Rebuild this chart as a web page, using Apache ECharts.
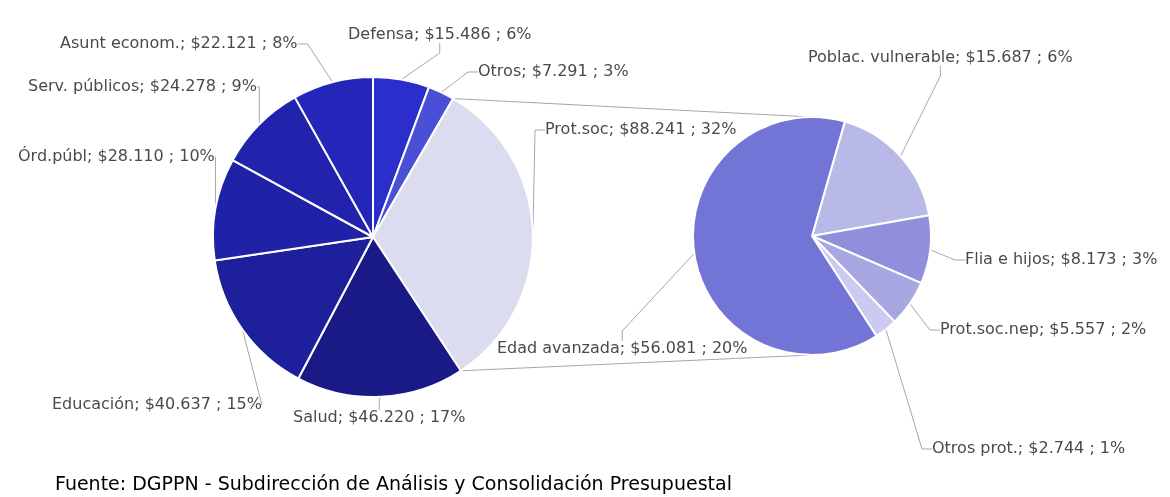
<!DOCTYPE html>
<html>
<head>
<meta charset="utf-8">
<script src="https://cdn.jsdelivr.net/npm/echarts@6/dist/echarts.min.js"></script>
<style>
  html, body { margin: 0; padding: 0; background: #fff; }
  #chart { width: 1170px; height: 497px; }
</style>
</head>
<body>
<div id="chart"></div>
<script>
// main pie (clockwise from 12 o'clock)
var mainNames = ['Defensa', 'Otros', 'Prot.soc', 'Salud', 'Educación', 'Órd.públ', 'Serv. públicos', 'Asunt econom.'];
var mainValues = [15486, 7291, 88241, 46220, 40637, 28110, 24278, 22121];
var mainPct = [6, 3, 32, 17, 15, 10, 9, 8];
var mainColors = ['#2b2dcc', '#4b4fd6', '#dcdcf1', '#1a1a87', '#1d1f9b', '#1f21a6', '#2123ad', '#2326b8'];

// breakdown of Prot.soc
var subNames = ['Poblac. vulnerable', 'Flia e hijos', 'Prot.soc.nep', 'Otros prot.', 'Edad avanzada'];
var subValues = [15687, 8173, 5557, 2744, 56081];
var subPct = [6, 3, 2, 1, 20];
var subColors = ['#b9b9e8', '#8f8fdc', '#a7a7e1', '#cbcbef', '#7375d6'];

var splitIndex = 2;

// label placement (left x, middle y)
var mainLabelPos = [[348, 35], [478, 72], [545, 130], [293, 418], [52, 405], [18, 157], [28, 87], [60, 44]];
var subLabelPos = [[808, 58], [965, 260], [940, 330], [932, 449], [497, 349]];

var mainCenter = [373, 237], mainR = 160;
var subCenter = [812, 236], subR = 119;
var subStart = 74;

function money(v) {
  return '$' + String(v).replace(/\B(?=(\d{3})+(?!\d))/g, '.');
}

var chart = echarts.init(document.getElementById('chart'));

// connector lines from the split slice to the second pie
var total = mainValues.reduce(function (a, b) { return a + b; }, 0);
var before = 0;
for (var i = 0; i < splitIndex; i++) before += mainValues[i];
var a1 = before / total * 2 * Math.PI;
var a2 = (before + mainValues[splitIndex]) / total * 2 * Math.PI;
function onMain(a) {
  return [mainCenter[0] + mainR * Math.sin(a), mainCenter[1] - mainR * Math.cos(a)];
}
var p1 = onMain(a1), p2 = onMain(a2);

var labelBase = {
  show: true,
  fontFamily: 'DejaVu Sans',
  fontSize: 16,
  color: '#4a4a4a'
};

var option = {
  animation: false,
  graphic: [
    { type: 'line', shape: { x1: p1[0], y1: p1[1], x2: subCenter[0], y2: subCenter[1] - subR }, style: { stroke: '#a6a6a6', lineWidth: 1 }, z: 1 },
    { type: 'line', shape: { x1: p2[0], y1: p2[1], x2: subCenter[0], y2: subCenter[1] + subR }, style: { stroke: '#a6a6a6', lineWidth: 1 }, z: 1 },
    { type: 'text', left: 55, top: 476, style: { text: 'Fuente: DGPPN - Subdirección de Análisis y Consolidación Presupuestal', fontFamily: 'DejaVu Sans', fontSize: 19, fill: '#000' } }
  ],
  series: [
    {
      type: 'pie',
      center: mainCenter,
      radius: [0, mainR],
      startAngle: 90,
      clockwise: true,
      avoidLabelOverlap: false,
      itemStyle: { borderColor: '#fff', borderWidth: 2 },
      label: Object.assign({
        formatter: function (p) { return p.name + '; ' + money(p.value) + ' ; ' + mainPct[p.dataIndex] + '%'; }
      }, labelBase),
      labelLine: { show: true, lineStyle: { color: '#a6a6a6', width: 1 }, length: 10, length2: 10 },
      labelLayout: function (p) {
        var pos = mainLabelPos[p.dataIndex];
        return { x: pos[0], y: pos[1], align: 'left', verticalAlign: 'middle' };
      },
      data: mainNames.map(function (n, i) {
        return { name: n, value: mainValues[i], itemStyle: { color: mainColors[i] } };
      })
    },
    {
      type: 'pie',
      center: subCenter,
      radius: [0, subR],
      startAngle: subStart,
      clockwise: true,
      avoidLabelOverlap: false,
      itemStyle: { borderColor: '#fff', borderWidth: 2 },
      label: Object.assign({
        formatter: function (p) { return p.name + '; ' + money(p.value) + ' ; ' + subPct[p.dataIndex] + '%'; }
      }, labelBase),
      labelLine: { show: true, lineStyle: { color: '#a6a6a6', width: 1 }, length: 10, length2: 10 },
      labelLayout: function (p) {
        var pos = subLabelPos[p.dataIndex];
        return { x: pos[0], y: pos[1], align: 'left', verticalAlign: 'middle' };
      },
      data: subNames.map(function (n, i) {
        return { name: n, value: subValues[i], itemStyle: { color: subColors[i] } };
      })
    }
  ]
};

chart.setOption(option);
</script>
</body>
</html>
